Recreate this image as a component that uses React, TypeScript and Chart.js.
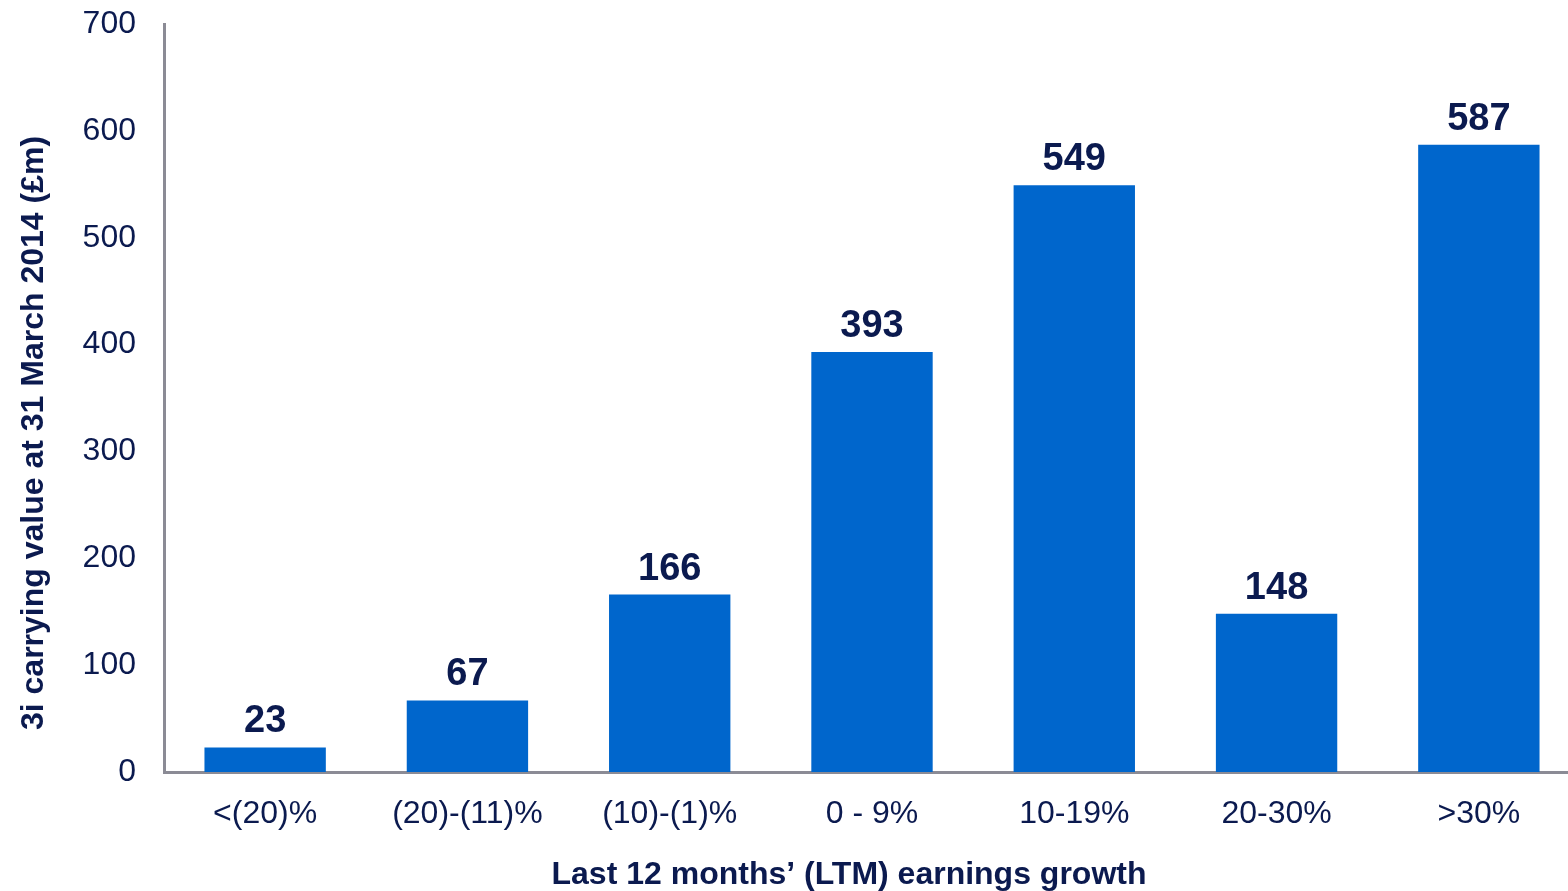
import React, { useEffect, useRef } from "react";
import { Chart, registerables } from "chart.js";

Chart.register(...registerables);

const categories = ["<(20)%", "(20)-(11)%", "(10)-(1)%", "0 - 9%", "10-19%", "20-30%", ">30%"];
const carryingValues = [23, 67, 166, 393, 549, 148, 587];
const yTicks = [0, 100, 200, 300, 400, 500, 600, 700];
const xTitle = "Last 12 months\u2019 (LTM) earnings growth";
const yTitle = "3i carrying value at 31 March 2014 (\u00a3m)";

const NAVY = "#0b1a4f";
const BAR = "#0066cc";
const AXIS = "#8b8b95";
const FONT = "'Liberation Sans', Arial, Helvetica, sans-serif";

const CANVAS_W = 1582;
const CANVAS_H = 891;

// Bold value above each bar
const valueLabels = {
  id: "valueLabels",
  afterDatasetsDraw(chart: any) {
    const { ctx } = chart;
    const meta = chart.getDatasetMeta(0);
    ctx.save();
    ctx.fillStyle = NAVY;
    ctx.font = `bold 38px ${FONT}`;
    ctx.textAlign = "center";
    ctx.textBaseline = "alphabetic";
    meta.data.forEach((bar: any, i: number) => {
      ctx.fillText(String(carryingValues[i]), bar.x, bar.y - 15);
    });
    ctx.restore();
  },
};

// Axis titles
const axisTitles = {
  id: "axisTitles",
  afterDraw(chart: any) {
    const { ctx } = chart;
    ctx.save();
    ctx.fillStyle = NAVY;
    ctx.font = `bold 32px ${FONT}`;
    ctx.textAlign = "center";
    ctx.textBaseline = "alphabetic";
    ctx.fillText(xTitle, 849, 884);
    ctx.translate(43, 433);
    ctx.rotate(-Math.PI / 2);
    ctx.fillText(yTitle, 0, 0);
    ctx.restore();
  },
};

export default function App() {
  const canvasRef = useRef<HTMLCanvasElement | null>(null);

  useEffect(() => {
    if (!canvasRef.current) return;
    const chart = new Chart(canvasRef.current, {
      type: "bar",
      data: {
        labels: categories,
        datasets: [
          {
            data: carryingValues,
            backgroundColor: BAR,
            borderWidth: 0,
            barPercentage: 0.6,
            categoryPercentage: 1,
          },
        ],
      },
      options: {
        responsive: false,
        animation: false,
        devicePixelRatio: 1,
        layout: { padding: { top: 24, right: 2, left: 0, bottom: 0 } },
        plugins: {
          legend: { display: false },
          tooltip: { enabled: false },
        },
        scales: {
          x: {
            grid: { display: false, drawTicks: false },
            border: { display: true, color: AXIS, width: 3 },
            ticks: {
              color: NAVY,
              font: { family: FONT, size: 32 },
              padding: 23,
              maxRotation: 0,
              autoSkip: false,
            },
            afterFit(scale: any) {
              scale.height = 119;
              scale.paddingLeft = 0;
              scale.paddingRight = 0;
            },
          },
          y: {
            min: 0,
            max: 700,
            afterBuildTicks(scale: any) {
              scale.ticks = yTicks.map((v) => ({ value: v }));
            },
            grid: { display: false, drawTicks: false },
            border: { display: true, color: AXIS, width: 3 },
            ticks: {
              color: NAVY,
              font: { family: FONT, size: 32 },
              padding: 28,
            },
            afterFit(scale: any) {
              scale.width = 164;
              scale.paddingTop = 0;
              scale.paddingBottom = 0;
            },
          },
        },
      },
      plugins: [valueLabels, axisTitles],
    });
    return () => chart.destroy();
  }, []);

  return (
    <div
      style={{
        position: "fixed",
        left: 0,
        top: 0,
        width: 1568,
        height: CANVAS_H,
        overflow: "hidden",
        background: "#ffffff",
      }}
    >
      <canvas ref={canvasRef} width={CANVAS_W} height={CANVAS_H} style={{ display: "block" }} />
    </div>
  );
}
